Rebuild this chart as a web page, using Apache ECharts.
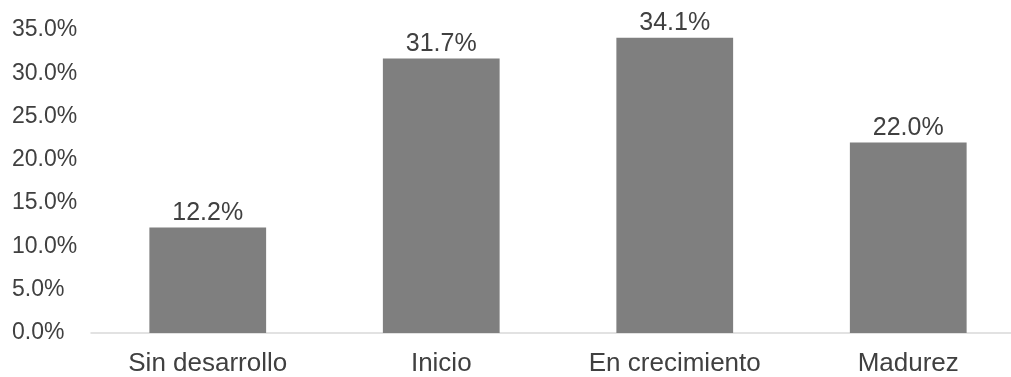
<!DOCTYPE html>
<html><head><meta charset="utf-8">
<script src="https://cdn.jsdelivr.net/npm/echarts@6/dist/echarts.min.js"></script>
<style>html,body{margin:0;padding:0;background:#fff}#c{width:1011px;height:377px}</style>
</head><body><div id="c"></div>
<script>
const categories = ['Sin desarrollo', 'Inicio', 'En crecimiento', 'Madurez'];
const values = [12.2, 31.7, 34.1, 22.0];
const yMin = 0, yMax = 35, yStep = 5;

const chart = echarts.init(document.getElementById('c'), null, {renderer: 'canvas'});
const font = '"Liberation Sans", Arial, sans-serif';
chart.setOption({
  animation: false,
  grid: {left: 91, width: 934, top: 30, bottom: 44, containLabel: false, outerBoundsMode: 'none'},
  xAxis: {
    type: 'category', data: categories,
    axisLine: {lineStyle: {color: '#d9d9d9', width: 1.5}},
    axisTick: {show: false},
    axisLabel: {color: '#404040', fontFamily: font, fontSize: 26, margin: 18}
  },
  yAxis: {
    type: 'value', min: yMin, max: yMax, interval: yStep,
    axisLine: {show: false}, axisTick: {show: false},
    splitLine: {show: false},
    axisLabel: {color: '#404040', fontFamily: font, fontSize: 23, align: 'left', margin: 79,
      formatter: v => v.toFixed(1) + '%'}
  },
  series: [{
    type: 'bar', data: values, barWidth: '50%',
    itemStyle: {color: '#7f7f7f'},
    label: {show: true, position: 'top', distance: 2, color: '#404040', fontFamily: font, fontSize: 25,
      formatter: p => p.value.toFixed(1) + '%'}
  }]
});
</script></body></html>
